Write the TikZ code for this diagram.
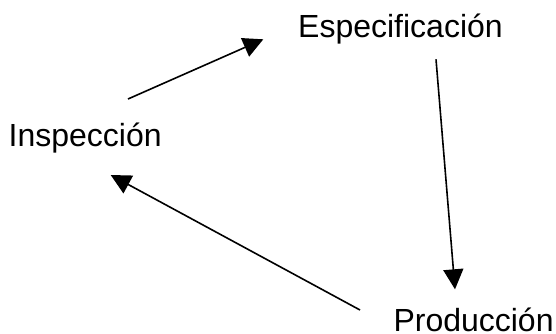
\documentclass[tikz,border=0pt]{standalone}
\usepackage{fontspec}
\setmainfont{Liberation Sans}
\usetikzlibrary{arrows.meta}
\begin{document}
\begin{tikzpicture}[x=1pt,y=-1pt,
  lbl/.style={anchor=base west,inner sep=0pt,font=\fontsize{32}{38}\selectfont},
  flow/.style={line width=1.6pt,-{Triangle[length=20pt,width=20pt]}}]
\useasboundingbox (0,0) rectangle (556,333);
\node[lbl] (esp) at (298,37.3) {Especificación};
\node[lbl] (insp) at (8.5,146.7) {Inspección};
\node[lbl] (prod) at (393.3,331) {Producción};
\coordinate (a1) at (128,99);
\coordinate (a2) at (263.3,39.3);
\coordinate (b1) at (436,59.3);
\coordinate (b2) at (455,289.3);
\coordinate (c1) at (360,310);
\coordinate (c2) at (110.7,175);
\draw[flow] (a1) -- (a2);
\draw[flow] (b1) -- (b2);
\draw[flow] (c1) -- (c2);
\end{tikzpicture}
\end{document}
